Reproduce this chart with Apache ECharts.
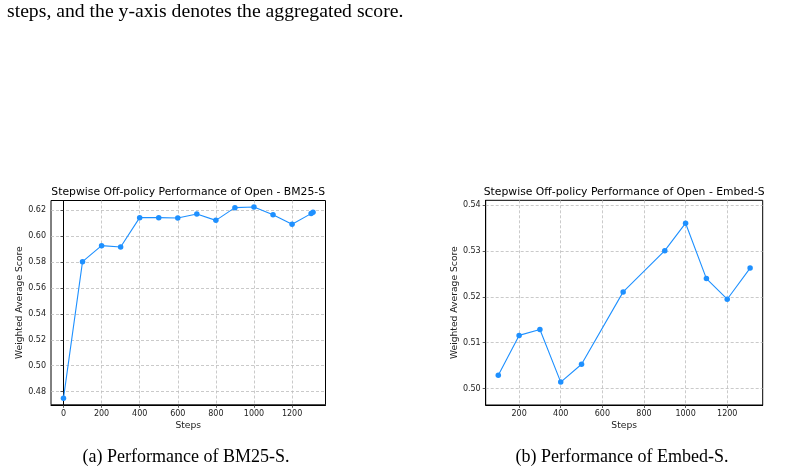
<!DOCTYPE html>
<html>
<head>
<meta charset="utf-8">
<script src="https://cdn.jsdelivr.net/npm/echarts@6/dist/echarts.min.js"></script>
<style>
  html, body { margin: 0; padding: 0; background: #fff; }
  #main { width: 802px; height: 470px; }
</style>
</head>
<body>
<div id="main"></div>
<script>
// data
var bm25Steps = [0, 100, 200, 300, 400, 500, 600, 700, 800, 900, 1000, 1100, 1200, 1300, 1310];
var bm25Scores = [0.4749, 0.5802, 0.5925, 0.5915, 0.6141, 0.6141, 0.6138, 0.6169, 0.6120, 0.6218, 0.6223, 0.6164, 0.6090, 0.6172, 0.6182];

var embedSteps = [100, 200, 300, 400, 500, 700, 900, 1000, 1100, 1200, 1310];
var embedScores = [0.5029, 0.5116, 0.5129, 0.5014, 0.5053, 0.5211, 0.5301, 0.5361, 0.5240, 0.5195, 0.5263];

var bm25XTicks = [0, 200, 400, 600, 800, 1000, 1200];
var bm25YTicks = [0.48, 0.50, 0.52, 0.54, 0.56, 0.58, 0.60, 0.62];
var embedXTicks = [200, 400, 600, 800, 1000, 1200];
var embedYTicks = [0.50, 0.51, 0.52, 0.53, 0.54];

var lineColor = '#1E90FF';
var chartFont = 'DejaVu Sans';
var paperFont = 'Liberation Serif';

function pairs(xs, ys) {
  return xs.map(function (x, i) { return [x, ys[i]]; });
}

function xAxisOf(gridIndex, min, max, ticks) {
  return {
    type: 'value', gridIndex: gridIndex, min: min, max: max, splitNumber: 7,
    name: 'Steps', nameLocation: 'middle', nameGap: 16,
    nameTextStyle: { fontFamily: chartFont, fontSize: 9.2, color: '#222' },
    axisLine: { show: true, onZero: false, lineStyle: { color: '#000', width: 1 } },
    axisTick: { show: true, length: 3, customValues: ticks, lineStyle: { color: '#333', width: 0.8 } },
    axisLabel: {
      customValues: ticks, margin: 5, fontFamily: chartFont, fontSize: 8, color: '#222',
      formatter: function (v) { return String(v); }
    },
    splitLine: { show: true, lineStyle: { color: '#bdbdbd', width: 0.8, type: [3, 2] } }
  };
}

function yAxisOf(gridIndex, min, max, split, ticks, digits, gap) {
  return {
    type: 'value', gridIndex: gridIndex, min: min, max: max, splitNumber: split,
    name: 'Weighted Average Score', nameLocation: 'middle', nameGap: gap,
    nameTextStyle: { fontFamily: chartFont, fontSize: 9.2, color: '#222' },
    axisLine: { show: true, lineStyle: { color: '#000', width: 1 } },
    axisTick: { show: true, length: 3, customValues: ticks, lineStyle: { color: '#333', width: 0.8 } },
    axisLabel: {
      customValues: ticks, margin: 5, fontFamily: chartFont, fontSize: 8, color: '#222',
      formatter: function (v) { return v.toFixed(digits); }
    },
    splitLine: { show: true, lineStyle: { color: '#bdbdbd', width: 0.8, type: [3, 2] } }
  };
}

function lineSeries(idx, data) {
  return {
    type: 'line', xAxisIndex: idx, yAxisIndex: idx, data: data,
    symbol: 'circle', symbolSize: 5.5, showSymbol: true,
    itemStyle: { color: lineColor },
    lineStyle: { color: lineColor, width: 1.1 },
    animation: false
  };
}

var myChart = echarts.init(document.getElementById('main'));

var option = {
  backgroundColor: '#fff',
  animation: false,
  grid: [
    { left: 51, top: 200.5, width: 274.5, height: 204.3, show: true, borderColor: '#000', borderWidth: 1, containLabel: false },
    { left: 485.7, top: 200.3, width: 277, height: 204.7, show: true, borderColor: '#000', borderWidth: 1, containLabel: false }
  ],
  xAxis: [
    xAxisOf(0, -65.5, 1375.5, bm25XTicks),
    xAxisOf(1, 39.5, 1370.5, embedXTicks)
  ],
  yAxis: [
    yAxisOf(0, 0.4699, 0.6273, 8, bm25YTicks, 2, 26),
    yAxisOf(1, 0.4964, 0.5411, 4, embedYTicks, 2, 25)
  ],
  series: [
    lineSeries(0, pairs(bm25Steps, bm25Scores)),
    lineSeries(1, pairs(embedSteps, embedScores))
  ],
  graphic: [
    { type: 'text', left: 7, top: 2, style: { text: 'steps, and the y-axis denotes the aggregated score.', fontFamily: paperFont, fontSize: 19.7, fill: '#000' } },
    { type: 'text', x: 188.2, y: 192.5, style: { text: 'Stepwise Off-policy Performance of Open - BM25-S', fontFamily: chartFont, fontSize: 10.8, fill: '#000', align: 'center', verticalAlign: 'middle' } },
    { type: 'text', x: 624.2, y: 192.5, style: { text: 'Stepwise Off-policy Performance of Open - Embed-S', fontFamily: chartFont, fontSize: 10.8, fill: '#000', align: 'center', verticalAlign: 'middle' } },
    { type: 'text', x: 186, y: 457, style: { text: '(a) Performance of BM25-S.', fontFamily: paperFont, fontSize: 18, fill: '#000', align: 'center', verticalAlign: 'middle' } },
    { type: 'text', x: 622, y: 457, style: { text: '(b) Performance of Embed-S.', fontFamily: paperFont, fontSize: 18, fill: '#000', align: 'center', verticalAlign: 'middle' } }
  ]
};

myChart.setOption(option);
window.addEventListener('resize', function () {
  myChart.resize();
});
</script>
</body>
</html>
